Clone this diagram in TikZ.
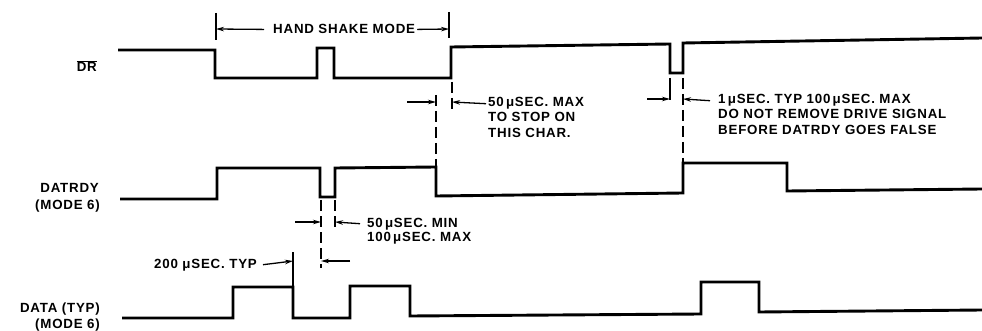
\documentclass[tikz,border=0pt]{standalone}
\usepackage{fontspec}
\setmainfont{Liberation Sans}[LetterSpace=6]
\usetikzlibrary{arrows.meta}
\begin{document}
\begin{tikzpicture}[x=1pt,y=-1pt,
  sig/.style={line width=2.9pt},
  thinline/.style={line width=1.3pt},
  dashline/.style={line width=1.3pt, dash pattern=on 11pt off 5pt},
  dimarrow/.style={line width=1.3pt, -{Stealth[length=8pt,width=4.5pt]}},
  lbl/.style={inner sep=0pt, font=\fontsize{13.3}{15}\selectfont\bfseries}]
\useasboundingbox (0,0) rectangle (982,331);

% ---- signal labels
\node[lbl, anchor=base east] (drl) at (97,72) {$\overline{\hbox{DR}}$};
\node[lbl, anchor=base east] (datrdyl) at (99,193) {DATRDY};
\node[lbl, anchor=base east] (datrdym) at (100,209) {(MODE 6)};
\node[lbl, anchor=base east] (datal) at (100,312) {DATA (TYP)};
\node[lbl, anchor=base east] (datam) at (100,328) {(MODE 6)};

% ---- waveforms
\draw[sig] (118,50) -- (215,50) -- (215,78) -- (317,78) -- (317,48) -- (334,48)
  -- (334,78) -- (451,78) -- (451,47) -- (670,44) -- (670,73) -- (683,73)
  -- (683,43) -- (982,38);
\draw[sig] (120,199) -- (217,199) -- (217,168) -- (320,168) -- (320,197) -- (335,197)
  -- (335,168) -- (436,167) -- (436,196) -- (683,193) -- (683,163) -- (787,163)
  -- (787,191) -- (982,189);
\draw[sig] (122,318) -- (233,318) -- (233,287) -- (293,287) -- (293,318) -- (350,318)
  -- (350,286) -- (410,286) -- (410,316) -- (701,314) -- (701,282) -- (759,282)
  -- (759,312) -- (982,310);

% ---- hand shake mode
\coordinate (hsmLt) at (216,13);
\coordinate (hsmLb) at (216,40);
\coordinate (hsmRt) at (449,12);
\coordinate (hsmRb) at (449,38);
\coordinate (hsmL) at (216,29);
\coordinate (hsmR) at (449,29);
\node[lbl, anchor=base west] (hsm) at (273,34) {HAND SHAKE MODE};
\draw[thinline] (hsmLt) -- (hsmLb);
\draw[thinline] (hsmRt) -- (hsmRb);
\draw[dimarrow] ([xshift=-9pt]hsm.west) -- (hsmL);
\draw[dimarrow] ([xshift=2pt]hsm.east) -- (hsmR);

% ---- 50 usec max to stop
\coordinate (a1t) at (436,95);
\coordinate (a1b) at (436,167);
\coordinate (a2t) at (452,82);
\coordinate (a2b) at (452,112);
\coordinate (a1s) at (407,102);
\coordinate (a1e) at (436,102);
\coordinate (a2e) at (452,102);
\draw[dashline] (a1t) -- (a1b);
\draw[dashline] (a2t) -- (a2b);
\node[lbl, anchor=base west] (t1a) at (488,107) {50\,μSEC. MAX};
\node[lbl, anchor=base west] (t1b) at (488,122) {TO STOP ON};
\node[lbl, anchor=base west] (t1c) at (488,138) {THIS CHAR.};
\draw[dimarrow] (a1s) -- (a1e);
\draw[dimarrow] ([xshift=-2pt]t1a.west) -- (a2e);

% ---- 1 usec typ
\coordinate (b1t) at (670,78);
\coordinate (b1b) at (670,100);
\coordinate (b2t) at (683,78);
\coordinate (b2b) at (683,163);
\coordinate (b1s) at (647,99);
\coordinate (b1e) at (670,99);
\coordinate (b2e) at (683,99);
\draw[thinline] (b1t) -- (b1b);
\draw[dashline] (b2t) -- (b2b);
\node[lbl, anchor=base west] (t2a) at (718,104) {1\,μSEC. TYP 100\,μSEC. MAX};
\node[lbl, anchor=base west] (t2b) at (718,119) {DO NOT REMOVE DRIVE SIGNAL};
\node[lbl, anchor=base west] (t2c) at (718,135) {BEFORE DATRDY GOES FALSE};
\draw[dimarrow] ([xshift=-8pt]t2a.west) -- (b2e);
\draw[dimarrow] (b1s) -- (b1e);

% ---- 50 usec min
\coordinate (c1t) at (321,200);
\coordinate (c1b) at (321,268);
\coordinate (c2t) at (335,200);
\coordinate (c2b) at (335,232);
\coordinate (c1s) at (295,222);
\coordinate (c1e) at (321,222);
\coordinate (c2e) at (335,222);
\draw[dashline] (c1t) -- (c1b);
\draw[dashline] (c2t) -- (c2b);
\node[lbl, anchor=base west] (t3a) at (367,227) {50\,μSEC. MIN};
\node[lbl, anchor=base west] (t3b) at (367,241) {100\,μSEC. MAX};
\draw[dimarrow] (c1s) -- (c1e);
\draw[dimarrow] ([xshift=-7pt]t3a.west) -- (c2e);

% ---- 200 usec typ
\coordinate (d1t) at (293,252);
\coordinate (d1b) at (293,287);
\coordinate (d1e) at (293,261);
\coordinate (d2s) at (350,261);
\coordinate (d2e) at (321,261);
\draw[thinline] (d1t) -- (d1b);
\node[lbl, anchor=base east] (t4) at (257,268) {200 μSEC. TYP};
\draw[dimarrow] ([xshift=6pt]t4.east) -- (d1e);
\draw[dimarrow] (d2s) -- (d2e);
\end{tikzpicture}
\end{document}
